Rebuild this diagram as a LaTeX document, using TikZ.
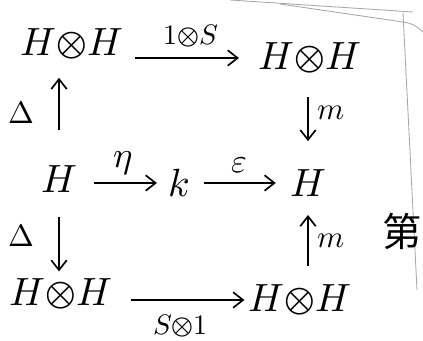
\documentclass[tikz,border=0pt]{standalone}
\usepackage{fontspec}
\usepackage{unicode-math}
\newfontfamily\cjk{Noto Sans CJK SC}
\usetikzlibrary{arrows.meta}

\begin{document}
\begin{tikzpicture}[x=0.025cm,y=-0.025cm,
  obj/.style={inner sep=2pt,font=\fontsize{28}{32}\selectfont},
  lab/.style={inner sep=0pt,font=\fontsize{22}{26}\selectfont},
  arr/.style={-{Straight Barb[length=7pt,width=11pt]},line width=1.2pt},
  edge/.style={gray!70,line width=0.6pt}]
\useasboundingbox (0,0) rectangle (423,341);

% paper edges
\draw[edge] (230,0) -- (413,12);
\draw[edge] (280,4) -- (403,22) .. controls (412,23) and (418,27) .. (423,32);
\draw[edge] (403,13) -- (417,290);

\node[obj] (tl) at (72,44) {$H{\otimes}H$};
\node[obj] (tr) at (310,58) {$H{\otimes}H$};
\node[obj] (hl) at (59,179) {$H$};
\node[obj] (kk) at (179,183) {$k$};
\node[obj] (hr) at (308,183) {$H$};
\node[obj] (bl) at (61,294) {$H{\otimes}H$};
\node[obj] (br) at (300,300) {$H{\otimes}H$};

\node[font=\cjk\fontsize{28}{32}\selectfont] (ch) at (402,231) {第};

% top and bottom rows
\draw[arr,shorten <=6pt,shorten >=12pt] (tl.east |- tr.west) -- (tr.west)
  node[lab,midway,above=7pt,font=\fontsize{20}{24}\selectfont] {$1{\otimes}S$};
\draw[arr,shorten <=11pt,shorten >=1pt] (bl.east |- br.west) -- (br.west)
  node[lab,midway,below=10pt,font=\fontsize{20}{24}\selectfont] {$S{\otimes}1$};

% middle row
\draw[arr,shorten <=10pt,shorten >=6pt] (hl.east |- kk.west) -- (kk.west)
  node[lab,midway,above=5pt,font=\fontsize{26}{30}\selectfont] {$\eta$};
\draw[arr,shorten <=8pt,shorten >=8pt] (kk.east) -- (hr.west)
  node[lab,midway,above=6pt,font=\fontsize{24}{28}\selectfont] {$\varepsilon$};

% left column
\draw[arr,shorten <=23pt,shorten >=11pt] (hl.north) -- (hl.north |- tl.south)
  node[lab,midway,left=17pt] {$\Delta$};
\draw[arr,shorten <=15pt,shorten >=3pt] (hl.south) -- (hl.south |- bl.north)
  node[lab,midway,left=17pt] {$\Delta$};

% right column
\draw[arr,shorten <=15pt,shorten >=18pt] (hr.north |- tr.south) -- (hr.north)
  node[lab,pos=0.4,right=6pt] {$m$};
\draw[arr,shorten <=11pt,shorten >=11pt] (hr.south |- br.north) -- (hr.south)
  node[lab,midway,right=6pt] {$m$};
\end{tikzpicture}
\end{document}
